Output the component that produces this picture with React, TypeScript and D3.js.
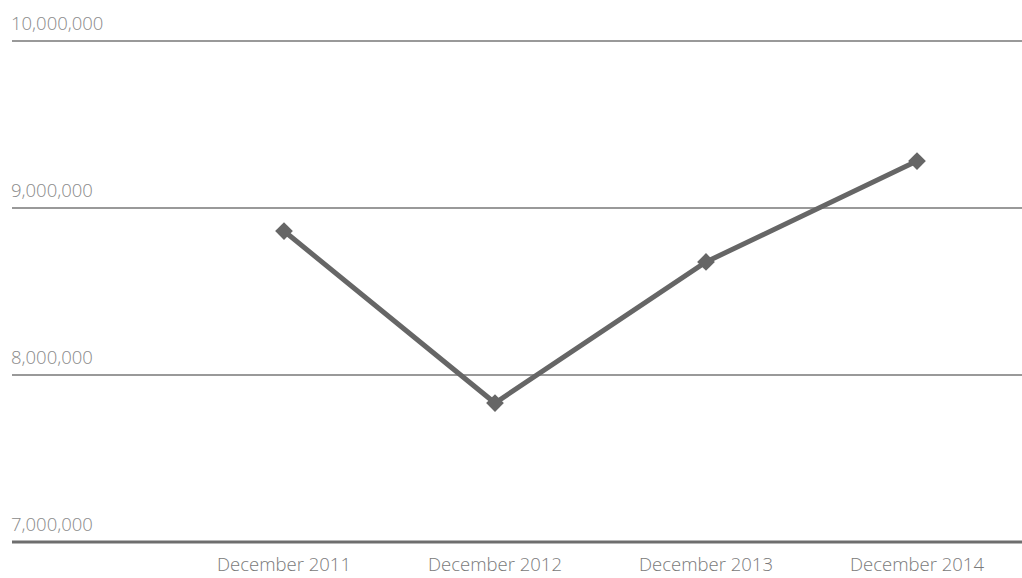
import React, { useRef, useEffect } from 'react';
import * as d3 from 'd3';

const categories = ['December 2011', 'December 2012', 'December 2013', 'December 2014'];
const values = [8862000, 7832000, 8677000, 9281000];
const yTicks = [7000000, 8000000, 9000000, 10000000];

const WIDTH = 1022;
const HEIGHT = 578;

export default function App(): React.ReactElement {
  const svgRef = useRef<SVGSVGElement>(null);

  useEffect(() => {
    if (!svgRef.current) return;
    const svg = d3.select(svgRef.current);
    svg.selectAll('*').remove();

    const font = '"Open Sans", "Noto Sans", sans-serif';

    const x = d3.scaleBand<string>()
      .domain(categories)
      .range([178.5, 1022.5]);

    const y = d3.scaleLinear()
      .domain([7000000, 10000000])
      .range([542, 41]);

    // Gridlines + y labels
    yTicks.forEach((t) => {
      svg.append('line')
        .attr('x1', 12)
        .attr('x2', WIDTH)
        .attr('y1', y(t))
        .attr('y2', y(t))
        .attr('stroke', t === 7000000 ? '#6e6e6e' : '#777')
        .attr('stroke-width', t === 7000000 ? 3 : 1.5);

      svg.append('text')
        .attr('x', 11)
        .attr('y', y(t) - 11)
        .attr('font-family', font)
        .attr('font-weight', 300)
        .attr('font-size', '18.5px')
        .attr('fill', '#8a8a8a')
        .text(d3.format(',')(t));
    });

    // X labels
    categories.forEach((c) => {
      svg.append('text')
        .attr('x', (x(c) ?? 0) + x.bandwidth() / 2)
        .attr('y', 571)
        .attr('text-anchor', 'middle')
        .attr('font-family', font)
        .attr('font-weight', 300)
        .attr('font-size', '18.5px')
        .attr('fill', '#7a7a7a')
        .text(c);
    });

    const pts: [number, number][] = categories.map((c, i) => [
      (x(c) ?? 0) + x.bandwidth() / 2,
      y(values[i]),
    ]);

    svg.append('path')
      .attr('d', d3.line()(pts) ?? '')
      .attr('fill', 'none')
      .attr('stroke', '#666')
      .attr('stroke-width', 5);

    svg.selectAll('path.marker')
      .data(pts)
      .enter()
      .append('path')
      .attr('class', 'marker')
      .attr('d', d3.symbol().type(d3.symbolDiamond2).size(200)() ?? '')
      .attr('transform', (d) => `translate(${d[0]},${d[1]})`)
      .attr('fill', '#666');
  }, []);

  return (
    <svg
      ref={svgRef}
      width={WIDTH}
      height={HEIGHT}
      style={{ position: 'absolute', left: 0, top: 0, background: '#fff' }}
    />
  );
}
